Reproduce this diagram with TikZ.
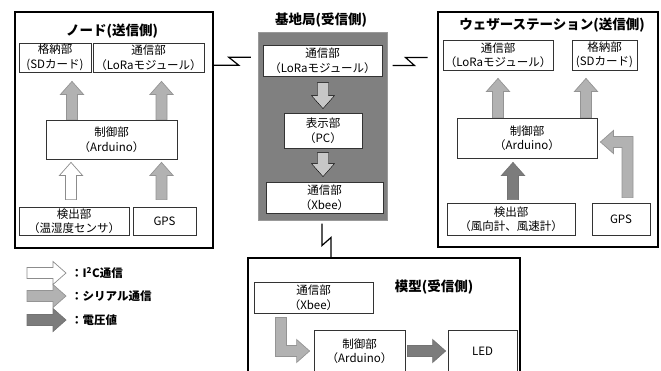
\documentclass[tikz,border=0pt]{standalone}
\usepackage{fontspec}
\setmainfont{Noto Sans CJK JP}
\usetikzlibrary{calc}

\definecolor{serialgray}{HTML}{B2B2B2}
\definecolor{voltgray}{HTML}{7C7C7C}
\definecolor{basegray}{HTML}{808080}

% point on a straight block arrow: #1 along it, #2 across it
\newcommand{\AP}[2]{({(\x1)+(#1)*(\n3)-(#2)*(\n4)},{(\y1)+(#1)*(\n4)+(#2)*(\n3)})}
% block arrow from #2 to #3
\newcommand{\fatarrow}[3]{%
  \draw[#1] let \p1=#2, \p2=#3, \n2={veclen((\x2)-(\x1),(\y2)-(\y1))},
    \n3={((\x2)-(\x1))/(\n2)}, \n4={((\y2)-(\y1))/(\n2)} in
    \AP{0}{5.5} -- \AP{\n2-13}{5.5} -- \AP{\n2-13}{11.5} -- \AP{\n2}{0}
    -- \AP{\n2-13}{-11.5} -- \AP{\n2-13}{-5.5} -- \AP{0}{-5.5} -- cycle;}
% block arrow with one bend: up/down from #2, then sideways to #3
\newcommand{\elbowarrow}[3]{%
  \draw[#1] let \p1=#2, \p2=#3, \n1={sign((\x2)-(\x1))}, \n2={sign((\y2)-(\y1))} in
    ({(\x1)-(\n1)*5.5},\y1) -- ({(\x1)-(\n1)*5.5},{(\y2)+(\n2)*5.5})
    -- ({(\x2)-(\n1)*13},{(\y2)+(\n2)*5.5}) -- ({(\x2)-(\n1)*13},{(\y2)+(\n2)*11.5})
    -- (\p2) -- ({(\x2)-(\n1)*13},{(\y2)-(\n2)*11.5}) -- ({(\x2)-(\n1)*13},{(\y2)-(\n2)*5.5})
    -- ({(\x1)+(\n1)*5.5},{(\y2)-(\n2)*5.5}) -- ({(\x1)+(\n1)*5.5},\y1) -- cycle;}

\tikzset{
  box/.style={draw=black!80, line width=0.8pt, fill=white, align=center, inner sep=1pt,
    font=\fontsize{11.5}{14.5}\selectfont},
  frame/.style={draw, line width=1.5pt},
  title/.style={font=\fontsize{13.5}{15}\selectfont\bfseries, inner sep=1pt},
  legend/.style={font=\fontsize{11.5}{13}\selectfont\bfseries, inner sep=1pt},
  i2c/.style={draw=black!45, fill=white, line width=0.7pt},
  serial/.style={draw=black!42, fill=serialgray, line width=0.7pt},
  volt/.style={draw=black!55, fill=voltgray, line width=0.7pt},
  flow/.style={fill=black!22},
  bolt/.style={line width=1.2pt},
}

\begin{document}
\begin{tikzpicture}[x=1pt,y=-1pt]
  \path[use as bounding box, clip] (0,0) rectangle (661,370);

  % node (sender)
  \node[frame, minimum width=198pt, minimum height=236pt] (frameL) at (114,130) {};
  \node[title] (titleL) at (112,31) {ノード(送信側)};
  \node[box, minimum width=72pt, minimum height=29pt] (sdL) at (55,57.5) {格納部\\(SDカード)};
  \node[box, minimum width=111pt, minimum height=29pt] (loraL) at (148.5,57.5) {通信部\\（LoRaモジュール）};
  \node[box, minimum width=131pt, minimum height=39pt] (ctrlL) at (111.5,139.5) {制御部\\（Arduino）};
  \node[box, minimum width=110pt, minimum height=28pt] (sensL) at (74,221) {検出部\\（温湿度センサ）};
  \node[box, minimum width=63pt, minimum height=28pt] (gpsL) at (164.5,221) {GPS};
  \fatarrow{serial}{($(ctrlL.north -| sensL)+(-2,0)$)}{($(sdL.south -| sensL)+(-2,9)$)}
  \fatarrow{serial}{($(ctrlL.north -| gpsL)+(-3,0)$)}{($(loraL.south -| gpsL)+(-3,9)$)}
  \fatarrow{i2c}{($(sensL.north)+(-3,-7)$)}{($(ctrlL.south -| sensL)+(-3,3)$)}
  \fatarrow{serial}{($(gpsL.north)+(-3,-7)$)}{($(ctrlL.south -| gpsL)+(-3,3)$)}

  % base station (receiver)
  \node[title] (titleC) at (321,20) {基地局(受信側)};
  \node[draw=black!40, fill=basegray, line width=1pt, minimum width=129pt, minimum height=188pt] (frameC) at (322.5,126) {};
  \node[box, minimum width=119pt, minimum height=31pt] (loraC) at (322.5,60.5) {通信部\\（LoRaモジュール）};
  \node[box, minimum width=78pt, minimum height=35pt] (pcC) at (323,130.5) {表示部\\（PC）};
  \node[box, minimum width=117pt, minimum height=31pt] (xbeeC) at (324.5,197.5) {通信部\\（Xbee）};
  \fatarrow{flow}{($(loraC.south -| pcC)+(0,6)$)}{($(pcC.north)+(0,-4)$)}
  \fatarrow{flow}{($(pcC.south)+(0,4)$)}{($(xbeeC.north -| pcC)+(0,-5)$)}

  % weather station (sender)
  \node[frame, minimum width=220pt, minimum height=235pt] (frameR) at (548,129.5) {};
  \node[title] (titleR) at (552,25) {ウェザーステーション(送信側)};
  \node[box, minimum width=110pt, minimum height=30pt] (loraR) at (498,55) {通信部\\（LoRaモジュール）};
  \node[box, minimum width=65pt, minimum height=30pt] (sdR) at (604.5,55) {格納部\\(SDカード)};
  \node[box, minimum width=140pt, minimum height=40pt] (ctrlR) at (527,138) {制御部\\（Arduino）};
  \node[box, minimum width=128pt, minimum height=32pt] (sensR) at (511,219) {検出部\\（風向計、風速計）};
  \node[box, minimum width=58pt, minimum height=32pt] (gpsR) at (621,219) {GPS};
  \fatarrow{serial}{(ctrlR.north -| loraR)}{($(loraR.south)+(0,8)$)}
  \fatarrow{serial}{($(ctrlR.north -| sdR)+(-18.5,0)$)}{($(sdR.south)+(-18.5,8)$)}
  \fatarrow{volt}{($(sensR.north)+(2,-3)$)}{($(ctrlR.south -| sensR)+(2,4)$)}
  \elbowarrow{serial}{($(gpsR.north)+(6.5,-5)$)}{($(ctrlR.east)+(3,4)$)}

  % model (receiver)
  \node[frame, minimum width=272pt, minimum height=137pt] (frameB) at (384,326.5) {};
  \node[title] (titleB) at (434,287) {模型(受信側)};
  \node[box, minimum width=119pt, minimum height=31pt] (xbeeB) at (313.5,297.5) {通信部\\（Xbee）};
  \node[box, minimum width=91pt, minimum height=42pt] (ctrlB) at (359.5,351) {制御部\\（Arduino）};
  \node[box, minimum width=69pt, minimum height=42pt] (ledB) at (482.5,351) {LED};
  \elbowarrow{serial}{($(xbeeB.south)+(-32.5,4)$)}{($(ctrlB.west)+(-4,0)$)}
  \fatarrow{volt}{($(ctrlB.east)+(2,0)$)}{($(ledB.west)+(-2,0)$)}

  % radio links
  \draw[bolt] ($(frameL.north east)+(0,54)$) -- ++(25,0) -- ++(-10,-8) -- ++(22,0);
  \draw[bolt] ($(frameC.north east)+(5,34)$) -- ++(22,0) -- ++(-9,-8) -- ++(22,0);
  \draw[bolt] ($(frameC.south)+(-0.5,3)$) -- ++(0,22) -- ++(9,-8) -- ++(0,21);

  % legend
  \foreach \s/\t/\y in {i2c/{：I\textsuperscript{2}C通信}/273, serial/：シリアル通信/296, volt/：電圧値/320}
  {
    \node[legend, anchor=west] (lg\s) at (70,\y) {\t};
    \fatarrow{\s}{($(lg\s.west)+(-43,0)$)}{($(lg\s.west)+(-4,0)$)}
  }
\end{tikzpicture}
\end{document}
